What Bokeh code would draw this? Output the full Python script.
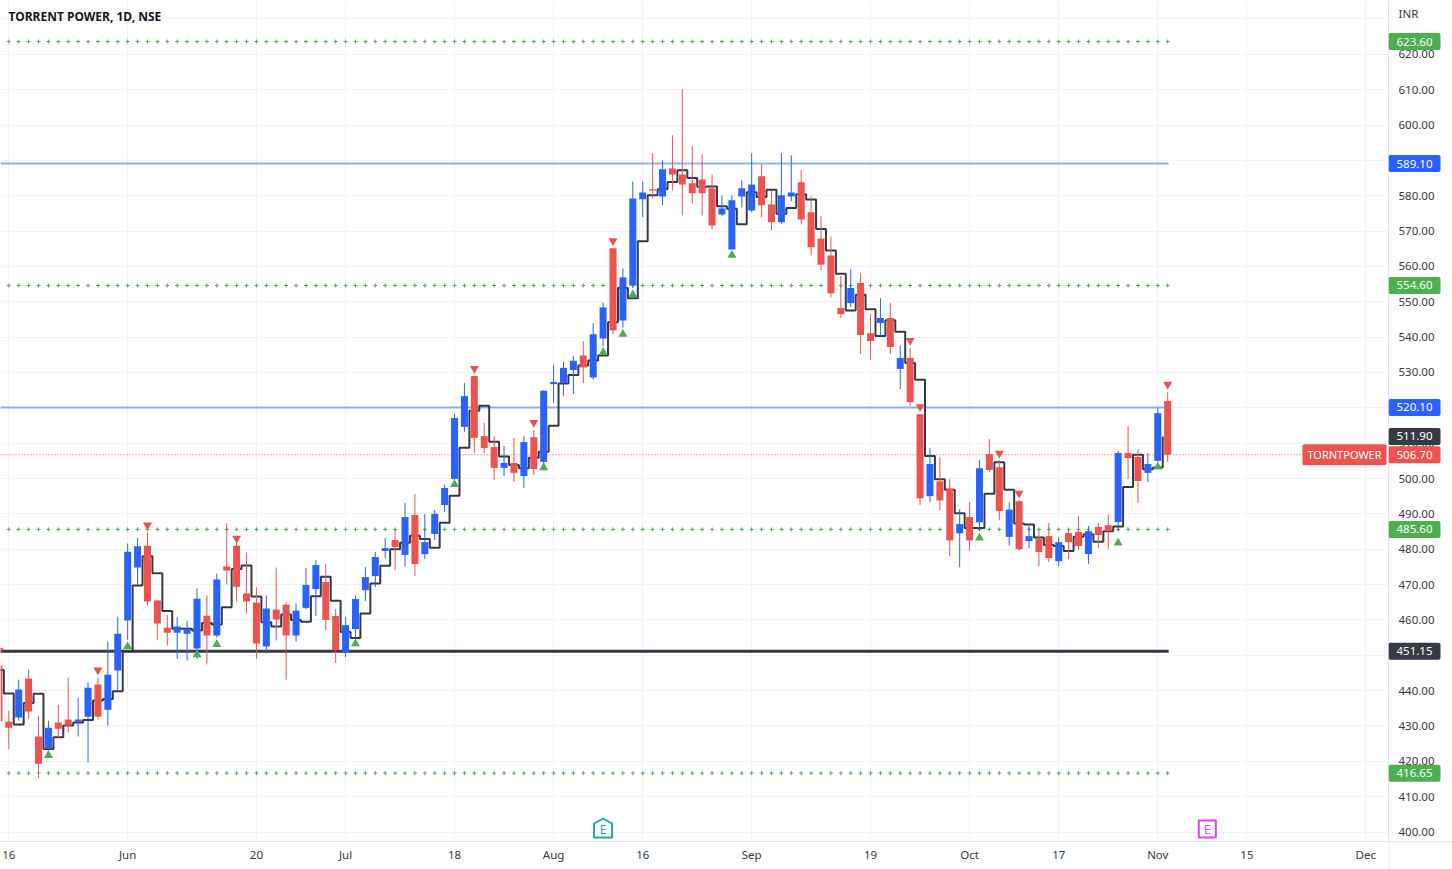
from bokeh.plotting import figure
from bokeh.layouts import row, column
from bokeh.models import Label, FixedTicker, NumeralTickFormatter, Range1d, ColumnDataSource
from bokeh.core.properties import value
from bokeh.embed import file_html
from bokeh.resources import INLINE

opens = [447.1,431.2,432.4,443.4,427.0,423.5,431.0,431.8,431.2,432.6,441.7,434.6,445.7,459.8,474.8,481.0,465.5,457.8,456.4,456.1,
451.9,461.2,455.6,475.1,481.0,467.5,464.9,452.5,462.9,464.3,455.6,463.4,468.7,470.7,461.1,450.9,457.4,468.4,472.4,479.5,
482.6,478.4,489.7,478.6,484.3,492.5,499.9,514.6,529.0,512.0,508.9,503.0,504.4,500.7,511.7,504.7,526.7,527.0,530.7,534.8,
528.6,539.6,565.1,544.7,554.6,579.0,581.8,579.8,587.7,586.0,583.5,584.6,582.1,574.7,564.8,579.8,575.8,585.5,577.5,572.5,
579.8,583.8,575.3,567.9,563.1,548.2,549.6,555.3,541.1,544.0,545.4,531.0,534.1,518.2,495.0,499.2,497.2,484.5,489.1,487.6,
506.9,503.2,483.5,493.6,482.3,482.9,483.7,476.6,484.6,484.9,478.6,486.3,486.8,487.7,507.2,506.1,501.6,505.0,521.9]
closes = [431.3,429.5,440.3,434.1,419.3,429.5,429.2,430.1,431.8,440.8,432.6,444.5,456.1,479.3,480.8,465.2,459.0,456.4,458.1,457.3,
466.0,455.6,471.4,474.0,469.4,465.2,453.3,463.2,460.1,455.6,462.6,469.9,475.5,460.0,451.5,458.5,465.9,472.1,477.8,480.3,
480.6,489.1,475.8,482.0,490.0,497.3,517.1,523.3,511.5,508.6,503.0,504.4,501.6,510.3,502.7,524.8,527.3,531.3,533.3,531.4,
540.8,548.4,541.9,556.9,579.2,580.9,581.5,587.5,586.0,583.2,580.7,580.7,571.6,576.4,578.7,582.1,583.2,577.3,572.5,580.1,
580.9,573.3,565.4,560.5,552.4,546.5,553.9,540.6,538.9,545.4,537.2,534.1,521.6,494.4,504.1,493.8,482.5,487.1,482.5,502.9,
502.4,490.8,491.2,480.0,483.7,479.2,477.5,482.0,482.0,480.9,485.1,484.0,485.1,507.2,505.8,499.3,504.1,518.5,506.7]
highs = [447.1,434.3,443.1,445.9,432.9,431.5,436.0,443.7,438.0,442.3,443.7,453.9,460.9,481.6,483.3,484.7,465.5,461.5,460.7,459.8,
468.9,466.9,473.1,487.3,482.0,479.1,469.2,466.9,474.8,465.0,464.6,474.7,476.9,475.8,463.1,460.8,467.0,475.0,479.2,483.2,
485.4,493.1,495.6,490.0,491.1,498.2,518.3,527.0,529.0,515.7,512.0,509.2,511.5,512.0,513.7,525.0,532.1,533.0,534.7,538.8,
543.9,549.8,565.1,559.4,584.0,584.0,592.0,590.0,597.1,610.1,594.0,591.7,586.0,580.1,580.1,584.3,592.0,588.9,581.5,592.0,
591.4,587.2,579.8,574.2,568.5,557.3,559.2,558.1,546.5,551.0,549.6,537.5,536.9,518.3,508.6,506.0,499.8,491.3,493.3,505.2,
511.1,505.2,493.3,494.0,486.6,485.4,487.4,483.4,485.4,489.4,486.6,487.4,489.7,507.8,514.9,508.3,507.2,520.0,524.5]
lows = [431.3,423.4,431.5,432.1,415.2,423.5,426.6,428.1,427.0,419.7,431.8,430.1,440.0,454.4,470.0,464.1,454.2,452.7,449.0,448.5,
449.0,447.4,455.0,470.0,465.2,461.8,449.0,450.5,454.2,443.1,453.9,463.0,461.1,457.1,447.8,449.5,454.9,465.3,469.3,477.5,
474.1,475.2,472.4,477.2,482.6,490.5,499.0,513.2,507.2,507.2,499.6,500.7,499.0,497.3,501.0,503.0,521.4,523.4,523.9,527.0,
528.0,537.4,540.8,542.7,553.8,573.9,579.2,577.3,581.5,574.4,577.8,574.4,570.5,574.2,564.8,576.7,575.3,573.9,570.2,572.0,
578.4,571.9,563.1,558.9,551.2,545.4,548.5,535.2,533.5,540.3,535.2,525.3,520.5,492.5,493.3,491.0,478.0,474.9,479.7,485.1,
501.8,488.2,481.1,479.5,480.3,475.2,476.4,475.2,477.2,479.8,475.8,480.3,480.0,485.0,499.9,493.1,499.0,504.5,504.7]
trail = [445.8,439.2,430.4,436.5,439.1,423.5,426.8,430.1,431.0,431.7,437.2,437.6,439.8,451.1,469.7,478.0,473.2,462.5,457.5,457.5,
457.0,459.1,458.7,463.6,474.4,475.4,466.6,459.3,458.1,461.5,460.0,459.5,466.7,472.2,465.4,456.6,454.9,461.8,470.3,475.3,
480.0,481.8,483.8,482.9,480.4,487.5,495.1,508.7,519.2,520.6,510.4,506.2,503.8,502.9,505.9,507.6,514.9,526.9,529.3,532.0,
533.4,534.8,544.2,553.9,551.0,567.1,580.1,581.8,583.9,587.2,585.0,582.5,582.6,577.0,576.3,571.9,581.0,579.6,581.7,574.9,
576.5,580.4,578.9,570.6,564.5,557.9,547.5,552.0,547.9,540.3,544.8,541.5,532.7,527.9,506.4,499.8,496.8,490.2,486.0,486.0,
495.7,504.6,496.8,487.3,487.0,483.3,481.2,480.9,479.5,483.5,484.2,482.1,485.1,486.4,497.6,506.7,502.6,503.1,511.9]

up_bars = [5,13,20,22,36,46,55,61,63,64,74,99,113,117]
up_prices = [421.7,452.5,450.2,453.1,453.3,498.3,503.1,535.7,540.8,552.0,563.2,483.2,481.8,503.3]
down_bars = [0,10,15,24,48,54,62,92,93,101,103,118]
down_prices = [451.3,445.8,486.8,483.1,531.1,515.8,567.2,539.0,520.3,507.1,495.8,526.6]

dotted_levels = [623.60,554.60,485.60,416.65]
blue_levels = [589.10,520.10]
dark_level = 451.15
last_price = 506.70
trail_last = 511.90
x_tick_bars = [1,13,26,35,46,56,65,76,88,98,107,117,126,138]
x_tick_labels = ["16","Jun","20","Jul","18","Aug","16","Sep","19","Oct","17","Nov","15","Dec"]
y_ticks = list(range(400,640,10))
earnings_bars = [61,122]

FONT = "Noto Sans"
RED, BLUE, GREEN, DARK = "#ef5350","#2962ff","#4caf50","#363a45"
STEP = 9.905
X0 = -1.6
PXY = 3.535
px2k = lambda px: (px-X0)/STEP
n = len(opens)
bars = list(range(n))
k_start, k_end = px2k(0), px2k(1388)
ev = lambda yp: 600-(yp-124.5)/PXY

p = figure(width=1452, height=869, output_backend="svg", toolbar_location=None,
           x_range=Range1d(k_start,k_end), y_range=Range1d(ev(841),ev(0)),
           y_axis_location="right", min_border_left=0, min_border_top=0,
           min_border_right=64, min_border_bottom=28, margin=(0,0,0,0),
           background_fill_color="white", border_fill_color="white", outline_line_color=None)

ax = p.yaxis[0]
ax.ticker = FixedTicker(ticks=y_ticks)
ax.formatter = NumeralTickFormatter(format="0.00")
ax.major_label_overrides = {630:""}
ax.major_tick_line_color = None
ax.minor_tick_line_color = None
ax.major_tick_out = 0
ax.major_tick_in = 0
ax.minor_tick_out = 0
ax.axis_line_color = "#e0e3eb"
ax.major_label_standoff = 10
ax.major_label_text_font = FONT
ax.major_label_text_font_size = "11.5px"
ax.major_label_text_color = "#363a45"

bx = p.xaxis[0]
bx.ticker = FixedTicker(ticks=x_tick_bars)
bx.major_label_overrides = dict(zip(x_tick_bars,x_tick_labels))
bx.major_tick_line_color = None
bx.minor_tick_line_color = None
bx.major_tick_out = 0
bx.major_tick_in = 0
bx.minor_tick_out = 0
bx.axis_line_color = "#e0e3eb"
bx.major_label_standoff = 5
bx.major_label_text_font = FONT
bx.major_label_text_font_size = "11.5px"
bx.major_label_text_color = "#363a45"

p.xgrid.grid_line_color = "#f0f3fa"
p.ygrid.grid_line_color = "#f0f3fa"

# levels
end_k = n-1+0.1
for lv in blue_levels:
    p.line([k_start,end_k],[lv,lv],line_color="#2962ff",line_alpha=0.5,line_width=2)
p.line([k_start,end_k],[dark_level,dark_level],line_color=DARK,line_width=3)
p.line([k_start,px2k(1302)],[last_price,last_price],line_color=RED,line_width=1,line_dash="1 2")

# dotted pivots
for lv in dotted_levels:
    p.scatter(bars[1:],[lv]*(n-1),marker="cross",size=4,line_color=GREEN,line_width=1)

# stepped trail
p.step([b-0.5 for b in bars],trail,mode="after",line_color=DARK,line_width=2)

# candles
colors = [BLUE if c>=o else RED for o,c in zip(opens,closes)]
src = ColumnDataSource(dict(x=bars,o=opens,c=closes,h=highs,l=lows,color=colors))
p.segment("x","h","x","l",source=src,line_color="color",line_width=1)
p.vbar("x",0.707,"o","c",source=src,fill_color="color",line_color="color",line_width=0.01)

# signal triangles
p.scatter(up_bars,up_prices,marker="triangle",size=9,fill_color=GREEN,line_color=None)
p.scatter(down_bars,down_prices,marker="inverted_triangle",size=9,fill_color=RED,line_color=None)

# earnings flags
ke = earnings_bars[0]
dx = 9/STEP
p.patch([ke-dx,ke-dx,ke,ke+dx,ke+dx],[ev(837),ev(823),ev(818),ev(823),ev(837)],
        fill_color="white",line_color="#22ab94",line_width=2,line_join="round")
p.text([ke],[ev(829)],text=["E"],text_font=value(FONT),text_font_size="12px",text_color="#22ab94",
       text_align="center",text_baseline="middle")
km = earnings_bars[1]
p.scatter([km],[ev(828.5)],marker="square",size=17,fill_color="white",line_color="#e040fb",line_width=2,line_join="round")
p.text([km],[ev(828.5)],text=["E"],text_font=value(FONT),text_font_size="12px",text_color="#e040fb",
       text_align="center",text_baseline="middle")

p.add_layout(Label(x=px2k(1344),y=last_price,text="TORNTPOWER",text_font=FONT,text_font_size="11px",
                   text_color="white",text_align="center",text_baseline="middle",
                   background_fill_color=RED,padding=(5,5,3,3),border_radius=2))
p.add_layout(Label(x=8,y=16,x_units="canvas",y_units="canvas",text="TORRENT POWER, 1D, NSE",text_font=FONT,
                   text_font_size="12px",text_font_style="bold",text_color="#131722",
                   text_align="left",text_baseline="middle"))

# price-scale overlay: same price scale, transparent, over the axis strip
s = figure(width=64, height=869, output_backend="svg", toolbar_location=None,
           x_range=Range1d(1388,1452), y_range=Range1d(ev(869),ev(0)),
           x_axis_type=None, y_axis_type=None, min_border=0, margin=(0,0,0,0),
           background_fill_alpha=0, border_fill_alpha=0, outline_line_color=None)
s.xgrid.visible = False
s.ygrid.visible = False
s.line([1388.5,1388.5],[ev(841),ev(869)],line_color="#e0e3eb",line_width=1)
s.line([1388,1452],[ev(841.5),ev(841.5)],line_color="#e0e3eb",line_width=1)

badge_prices = dotted_levels+blue_levels+[dark_level,trail_last,last_price]
badge_colors = [GREEN]*4+[BLUE]*2+[DARK,DARK,RED]
s.rect([1414]*len(badge_prices),badge_prices,width=52,height=17,height_units="screen",
       fill_color=badge_colors,line_color=None,border_radius=2)
s.text([1414]*len(badge_prices),badge_prices,text=[f"{v:.2f}" for v in badge_prices],text_font=value(FONT),
       text_font_size="11.5px",text_color="white",text_align="center",text_baseline="middle")
s.text([1398],[ev(13)],text=["INR"],text_font=value(FONT),text_font_size="11.5px",text_color="#363a45",
       text_align="left",text_baseline="middle")

layout = row(p,column(s,margin=(0,0,0,-64)),spacing=0,margin=(0,0,0,0))
open("out.html","w").write(file_html(layout,INLINE))
